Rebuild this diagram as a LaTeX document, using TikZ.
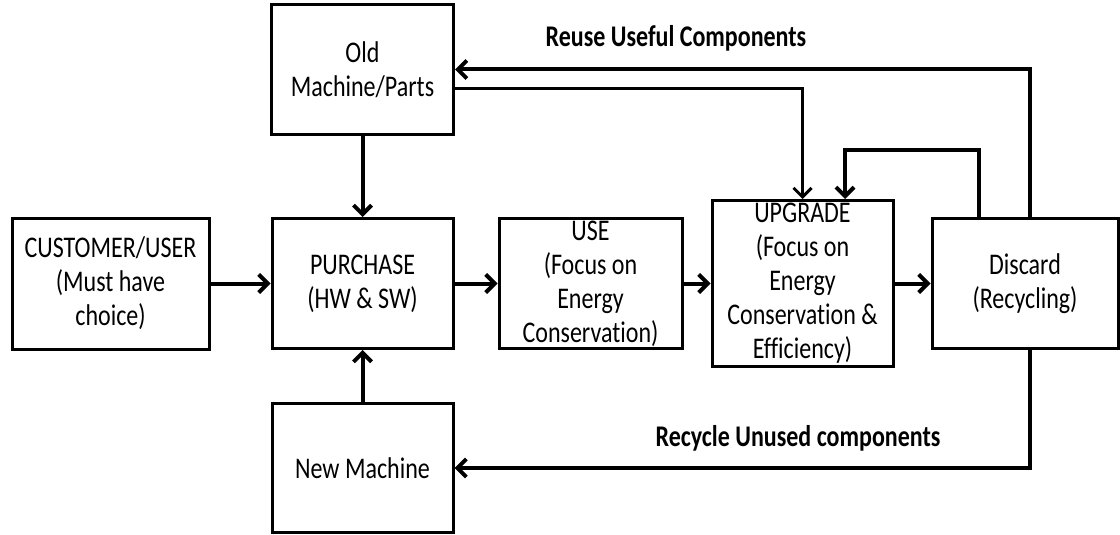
\documentclass[tikz,border=0pt]{standalone}
\usepackage{fontspec}
\setmainfont{Carlito}[FakeStretch=0.8, Ligatures=NoCommon]
\usetikzlibrary{positioning,arrows.meta}
\tikzstyle{line} = [draw, line width=4pt, -{Straight Barb[length=9pt,width=18pt]}]
\tikzstyle{thinline} = [line, line width=3pt]
\tikzstyle{box} = [rectangle, draw, line width=3pt, fill=white, align=center, inner sep=0pt, font=\fontsize{30}{34}\selectfont]
\tikzstyle{lbl} = [font=\fontsize{30}{34}\selectfont\bfseries]

\begin{document}
\begin{tikzpicture}
	\useasboundingbox (0,0) rectangle (1120pt,-535pt);

	\node [box, minimum width=197pt, minimum height=131pt] (cust) at (110.5pt,-283.5pt) {CUSTOMER/USER\\(Must have\\choice)};
	\node [box, right of = cust, node distance = 252pt, minimum width=181pt, minimum height=130pt] (purch) {PURCHASE\\(HW \& SW)};
	\node [box, right of = purch, node distance = 228pt, minimum width=183pt, minimum height=130pt] (use) {USE\\(Focus on\\Energy\\Conservation)};
	\node [box, right of = use, node distance = 212pt, minimum width=181pt, minimum height=166pt] (upg) {UPGRADE\\(Focus on\\Energy\\Conservation \&\\Efficiency)};
	\node [box, right of = upg, node distance = 222.5pt, minimum width=186pt, minimum height=130pt] (disc) {Discard\\(Recycling)};
	\node [box, above of = purch, node distance = 214pt, minimum width=182pt, minimum height=130pt] (oldm) {Old\\Machine/Parts};
	\node [box, below of = purch, node distance = 184.5pt, minimum width=181pt, minimum height=129pt] (newm) {New Machine};

	\node [lbl] (reuse) at (676pt,-38pt) {Reuse Useful Components};
	\node [lbl] (recyc) at (798pt,-438pt) {Recycle Unused components};

	\path [line] (cust) -- (purch);
	\path [line] (purch) -- (use);
	\path [line] (use) -- (upg);
	\path [line] (upg) -- (disc);
	\path [line] (oldm) -- (purch);
	\path [line] (newm) -- (purch);

	% loops back from the discard box
	\path [line] ([xshift=5pt]disc.north) |- (oldm.east);
	\path [thinline] ([yshift=-19pt]oldm.east) -| (upg.north);
	\path [line] ([xshift=-46pt]disc.north) -- ++(0,67pt) -| ([xshift=42.5pt]upg.north);
	\path [line] ([xshift=5pt]disc.south) |- (newm.east);
\end{tikzpicture}
\end{document}
